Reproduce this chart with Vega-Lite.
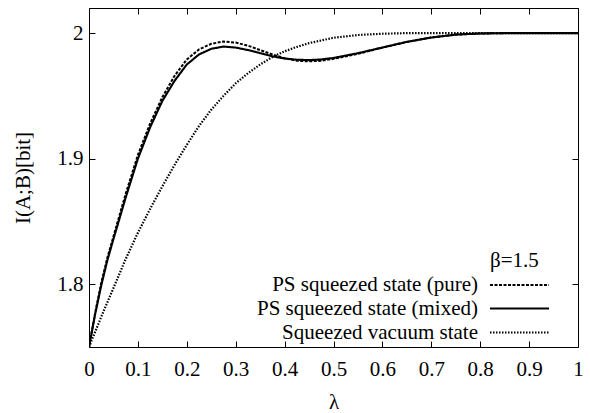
{
  "$schema": "https://vega.github.io/schema/vega-lite/v6.json",
  "width": 489,
  "height": 339,
  "autosize": {"type": "none"},
  "padding": {"left": 89, "top": 8, "right": 12, "bottom": 66},
  "background": "white",
  "config": {
    "font": "Liberation Serif",
    "view": {"stroke": "black", "strokeWidth": 1},
    "axis": {"grid": false, "domain": false, "tickColor": "black", "labelColor": "black", "titleColor": "black", "labelFont": "Liberation Serif", "titleFont": "Liberation Serif", "labelFontSize": 21, "titleFontSize": 21, "titleFontWeight": "normal", "tickSize": -6, "tickWidth": 1},
    "legend": {"labelFont": "Liberation Serif", "titleFont": "Liberation Serif", "labelFontSize": 21, "titleFontSize": 21, "titleFontWeight": "normal", "labelColor": "black", "titleColor": "black", "padding": 0, "labelLimit": 400}
  },
  "datasets": {
    "curves": [
      {"lambda": 0, "I": 1.75, "series": "PS squeezed state (pure)"},
      {"lambda": 0.0125, "I": 1.777, "series": "PS squeezed state (pure)"},
      {"lambda": 0.025, "I": 1.801, "series": "PS squeezed state (pure)"},
      {"lambda": 0.0375, "I": 1.821, "series": "PS squeezed state (pure)"},
      {"lambda": 0.05, "I": 1.838, "series": "PS squeezed state (pure)"},
      {"lambda": 0.075, "I": 1.872, "series": "PS squeezed state (pure)"},
      {"lambda": 0.1, "I": 1.903, "series": "PS squeezed state (pure)"},
      {"lambda": 0.125, "I": 1.928, "series": "PS squeezed state (pure)"},
      {"lambda": 0.15, "I": 1.949, "series": "PS squeezed state (pure)"},
      {"lambda": 0.175, "I": 1.966, "series": "PS squeezed state (pure)"},
      {"lambda": 0.2, "I": 1.979, "series": "PS squeezed state (pure)"},
      {"lambda": 0.225, "I": 1.987, "series": "PS squeezed state (pure)"},
      {"lambda": 0.25, "I": 1.9915, "series": "PS squeezed state (pure)"},
      {"lambda": 0.275, "I": 1.9933, "series": "PS squeezed state (pure)"},
      {"lambda": 0.3, "I": 1.9925, "series": "PS squeezed state (pure)"},
      {"lambda": 0.325, "I": 1.99, "series": "PS squeezed state (pure)"},
      {"lambda": 0.35, "I": 1.9865, "series": "PS squeezed state (pure)"},
      {"lambda": 0.375, "I": 1.983, "series": "PS squeezed state (pure)"},
      {"lambda": 0.4, "I": 1.98, "series": "PS squeezed state (pure)"},
      {"lambda": 0.425, "I": 1.978, "series": "PS squeezed state (pure)"},
      {"lambda": 0.45, "I": 1.9775, "series": "PS squeezed state (pure)"},
      {"lambda": 0.475, "I": 1.978, "series": "PS squeezed state (pure)"},
      {"lambda": 0.5, "I": 1.9795, "series": "PS squeezed state (pure)"},
      {"lambda": 0.55, "I": 1.9835, "series": "PS squeezed state (pure)"},
      {"lambda": 0.6, "I": 1.9885, "series": "PS squeezed state (pure)"},
      {"lambda": 0.65, "I": 1.993, "series": "PS squeezed state (pure)"},
      {"lambda": 0.7, "I": 1.9965, "series": "PS squeezed state (pure)"},
      {"lambda": 0.75, "I": 1.9988, "series": "PS squeezed state (pure)"},
      {"lambda": 0.8, "I": 1.9997, "series": "PS squeezed state (pure)"},
      {"lambda": 0.85, "I": 2.0, "series": "PS squeezed state (pure)"},
      {"lambda": 0.9, "I": 2.0, "series": "PS squeezed state (pure)"},
      {"lambda": 1.0, "I": 2.0, "series": "PS squeezed state (pure)"},
      {"lambda": 0, "I": 1.75, "series": "PS squeezed state (mixed)"},
      {"lambda": 0.0125, "I": 1.776, "series": "PS squeezed state (mixed)"},
      {"lambda": 0.025, "I": 1.799, "series": "PS squeezed state (mixed)"},
      {"lambda": 0.0375, "I": 1.819, "series": "PS squeezed state (mixed)"},
      {"lambda": 0.05, "I": 1.836, "series": "PS squeezed state (mixed)"},
      {"lambda": 0.075, "I": 1.869, "series": "PS squeezed state (mixed)"},
      {"lambda": 0.1, "I": 1.9, "series": "PS squeezed state (mixed)"},
      {"lambda": 0.125, "I": 1.925, "series": "PS squeezed state (mixed)"},
      {"lambda": 0.15, "I": 1.946, "series": "PS squeezed state (mixed)"},
      {"lambda": 0.175, "I": 1.962, "series": "PS squeezed state (mixed)"},
      {"lambda": 0.2, "I": 1.975, "series": "PS squeezed state (mixed)"},
      {"lambda": 0.225, "I": 1.983, "series": "PS squeezed state (mixed)"},
      {"lambda": 0.25, "I": 1.9875, "series": "PS squeezed state (mixed)"},
      {"lambda": 0.275, "I": 1.9893, "series": "PS squeezed state (mixed)"},
      {"lambda": 0.3, "I": 1.9885, "series": "PS squeezed state (mixed)"},
      {"lambda": 0.325, "I": 1.9865, "series": "PS squeezed state (mixed)"},
      {"lambda": 0.35, "I": 1.984, "series": "PS squeezed state (mixed)"},
      {"lambda": 0.375, "I": 1.9815, "series": "PS squeezed state (mixed)"},
      {"lambda": 0.4, "I": 1.9798, "series": "PS squeezed state (mixed)"},
      {"lambda": 0.425, "I": 1.9788, "series": "PS squeezed state (mixed)"},
      {"lambda": 0.45, "I": 1.9785, "series": "PS squeezed state (mixed)"},
      {"lambda": 0.475, "I": 1.979, "series": "PS squeezed state (mixed)"},
      {"lambda": 0.5, "I": 1.9802, "series": "PS squeezed state (mixed)"},
      {"lambda": 0.55, "I": 1.984, "series": "PS squeezed state (mixed)"},
      {"lambda": 0.6, "I": 1.9885, "series": "PS squeezed state (mixed)"},
      {"lambda": 0.65, "I": 1.993, "series": "PS squeezed state (mixed)"},
      {"lambda": 0.7, "I": 1.9965, "series": "PS squeezed state (mixed)"},
      {"lambda": 0.75, "I": 1.9988, "series": "PS squeezed state (mixed)"},
      {"lambda": 0.8, "I": 1.9997, "series": "PS squeezed state (mixed)"},
      {"lambda": 0.85, "I": 2.0, "series": "PS squeezed state (mixed)"},
      {"lambda": 0.9, "I": 2.0, "series": "PS squeezed state (mixed)"},
      {"lambda": 1.0, "I": 2.0, "series": "PS squeezed state (mixed)"},
      {"lambda": 0, "I": 1.75, "series": "Squeezed vacuum state"},
      {"lambda": 0.025, "I": 1.774, "series": "Squeezed vacuum state"},
      {"lambda": 0.05, "I": 1.797, "series": "Squeezed vacuum state"},
      {"lambda": 0.075, "I": 1.82, "series": "Squeezed vacuum state"},
      {"lambda": 0.1, "I": 1.841, "series": "Squeezed vacuum state"},
      {"lambda": 0.125, "I": 1.86, "series": "Squeezed vacuum state"},
      {"lambda": 0.15, "I": 1.878, "series": "Squeezed vacuum state"},
      {"lambda": 0.175, "I": 1.895, "series": "Squeezed vacuum state"},
      {"lambda": 0.2, "I": 1.911, "series": "Squeezed vacuum state"},
      {"lambda": 0.225, "I": 1.926, "series": "Squeezed vacuum state"},
      {"lambda": 0.25, "I": 1.939, "series": "Squeezed vacuum state"},
      {"lambda": 0.275, "I": 1.95, "series": "Squeezed vacuum state"},
      {"lambda": 0.3, "I": 1.96, "series": "Squeezed vacuum state"},
      {"lambda": 0.325, "I": 1.968, "series": "Squeezed vacuum state"},
      {"lambda": 0.35, "I": 1.975, "series": "Squeezed vacuum state"},
      {"lambda": 0.375, "I": 1.981, "series": "Squeezed vacuum state"},
      {"lambda": 0.4, "I": 1.9855, "series": "Squeezed vacuum state"},
      {"lambda": 0.425, "I": 1.989, "series": "Squeezed vacuum state"},
      {"lambda": 0.45, "I": 1.992, "series": "Squeezed vacuum state"},
      {"lambda": 0.5, "I": 1.9963, "series": "Squeezed vacuum state"},
      {"lambda": 0.55, "I": 1.9985, "series": "Squeezed vacuum state"},
      {"lambda": 0.6, "I": 1.9995, "series": "Squeezed vacuum state"},
      {"lambda": 0.65, "I": 2.0, "series": "Squeezed vacuum state"},
      {"lambda": 0.7, "I": 2.0, "series": "Squeezed vacuum state"},
      {"lambda": 1.0, "I": 2.0, "series": "Squeezed vacuum state"}
    ]
  },
  "layer": [
    {
      "mark": {"type": "rule", "color": "#777777", "strokeWidth": 1, "strokeDash": [1, 1]},
      "encoding": {"y": {"datum": 2, "type": "quantitative", "scale": {"domain": [1.75, 2.02]}, "axis": null}}
    },
    {
      "data": {"name": "curves"},
      "mark": {"type": "line", "color": "black", "clip": true},
      "encoding": {
        "x": {"field": "lambda", "type": "quantitative", "scale": {"domain": [0, 1], "nice": false}, "axis": {"values": [0, 0.1, 0.2, 0.3, 0.4, 0.5, 0.6, 0.7, 0.8, 0.9, 1], "format": "~g", "title": "λ", "labelPadding": 17, "titlePadding": 12, "labelFlush": false}},
        "y": {"field": "I", "type": "quantitative", "scale": {"domain": [1.75, 2.02], "nice": false, "zero": false}, "axis": {"values": [1.8, 1.9, 2], "format": "~g", "title": "I(A;B)[bit]", "labelPadding": 12, "titlePadding": 23}},
        "strokeDash": {"field": "series", "type": "nominal", "scale": {"domain": ["PS squeezed state (pure)", "PS squeezed state (mixed)", "Squeezed vacuum state"], "range": [[3, 1.5], [1, 0], [1.5, 1.5]]},
          "legend": {"title": "β=1.5", "orient": "none", "legendX": 401, "legendY": 242, "titlePadding": 3, "symbolType": "M-2.95,0H2.95", "symbolSize": 400, "symbolStrokeColor": "black", "symbolFillColor": "transparent", "labelAlign": "right", "labelOffset": -53, "symbolOffset": 18, "rowPadding": 2}},
        "strokeWidth": {"field": "series", "type": "nominal", "scale": {"domain": ["PS squeezed state (pure)", "PS squeezed state (mixed)", "Squeezed vacuum state"], "range": [2, 2.2, 1]},
          "legend": {"title": "β=1.5", "orient": "none", "legendX": 401, "legendY": 242, "titlePadding": 3, "symbolType": "M-2.95,0H2.95", "symbolSize": 400, "symbolStrokeColor": "black", "symbolFillColor": "transparent", "labelAlign": "right", "labelOffset": -53, "symbolOffset": 18, "rowPadding": 2}}
      }
    },
    {
      "data": {"name": "curves"},
      "mark": {"type": "line", "opacity": 0},
      "encoding": {
        "x": {"field": "lambda", "type": "quantitative", "axis": {"orient": "top", "values": [0, 0.1, 0.2, 0.3, 0.4, 0.5, 0.6, 0.7, 0.8, 0.9, 1], "labels": false, "title": null}},
        "y": {"field": "I", "type": "quantitative", "axis": {"orient": "right", "values": [1.8, 1.9, 2], "labels": false, "title": null}},
        "detail": {"field": "series"}
      }
    }
  ],
  "resolve": {"axis": {"x": "independent", "y": "independent"}}
}
